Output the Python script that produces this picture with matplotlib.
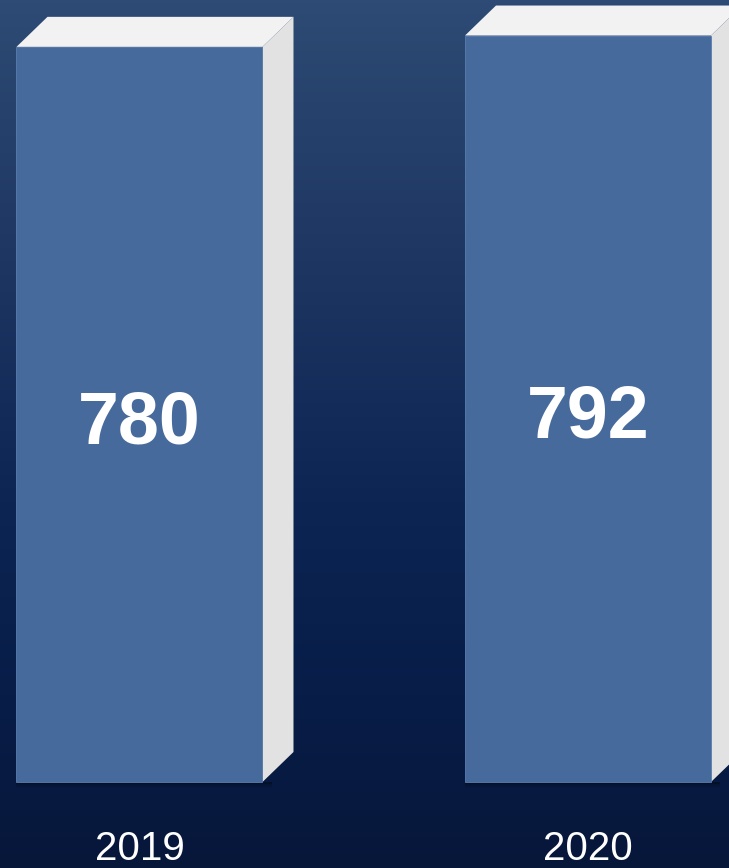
import matplotlib
matplotlib.use("Agg")
import matplotlib.pyplot as plt
import numpy as np
from matplotlib.colors import LinearSegmentedColormap
from matplotlib.patches import Polygon

# data
years = ["2019", "2020"]
values = [780, 792]

# style
front_col = "#476a9c"
top_col = "#f2f2f2"
side_col = "#e2e2e2"
bar_w = 0.5485
depth_px = (31, 30)  # 3d offset of the box, in pixels

plt.rcParams["font.family"] = ["Liberation Sans", "DejaVu Sans"]

fig = plt.figure(figsize=(7.29, 8.68), dpi=100)
ax = fig.add_axes([0, 0, 1, 1])
ax.set_xlim(-0.311, 1.3144)
ax.set_ylim(-91.25, 829.7)
ax.axis("off")

# background gradient (vertical)
bg = LinearSegmentedColormap.from_list(
    "bg", [(0.0, "#07173a"), (0.2, "#081d48"), (0.42, "#0c2553"),
           (0.65, "#1b335f"), (1.0, "#2d4b74")])
grad = np.linspace(0, 1, 256).reshape(-1, 1)
ax.imshow(grad, cmap=bg, aspect="auto", origin="lower",
          extent=[*ax.get_xlim(), *ax.get_ylim()], zorder=0)

xs = np.arange(len(values))
bars = ax.bar(xs, values, width=bar_w, color=front_col, zorder=3,
              edgecolor="#5a7db0", linewidth=0.6)

# pixel offsets -> data offsets
p0 = ax.transData.inverted().transform((0, 0))
p1 = ax.transData.inverted().transform(depth_px)
ddx, ddy = p1 - p0

for b, v, yr in zip(bars, values, years):
    x0 = b.get_x()
    x1 = x0 + b.get_width()
    h = b.get_height()
    # soft shadow under the box
    for k, a in enumerate([0.18, 0.12, 0.06]):
        ax.fill_between([x0, x1 + ddx * 0.3], -(k + 1) * 2.2, 0,
                        color="black", alpha=a, zorder=1, linewidth=0)
    top = Polygon([(x0, h), (x1, h), (x1 + ddx, h + ddy), (x0 + ddx, h + ddy)],
                  closed=True, facecolor=top_col, edgecolor="none", zorder=2)
    side = Polygon([(x1, 0), (x1, h), (x1 + ddx, h + ddy), (x1 + ddx, ddy)],
                   closed=True, facecolor=side_col, edgecolor="none", zorder=2)
    ax.add_patch(top)
    ax.add_patch(side)
    xc = b.get_x() + b.get_width() / 2
    ax.text(xc, h * 0.461, str(v), color="white", fontsize=53,
            fontweight="bold", ha="center", va="baseline", zorder=5)
    ax.text(xc, -82.5, yr, color="white", fontsize=29,
            ha="center", va="baseline", zorder=5)

fig.savefig("out.png", dpi=100)
